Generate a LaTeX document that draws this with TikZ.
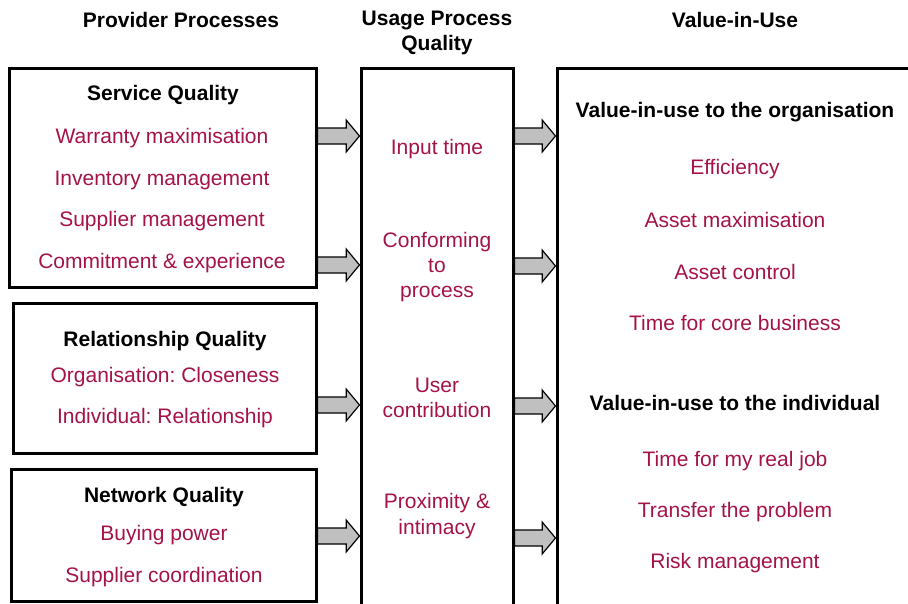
\documentclass[tikz,border=0pt]{standalone}
\usepackage{fontspec}
\setmainfont{Liberation Sans}
\usetikzlibrary{calc}
\definecolor{crim}{RGB}{164,18,72}
\definecolor{arrgray}{RGB}{192,192,192}
\tikzset{every picture/.style={line width=0.75pt}}
\tikzset{
  frame/.style={draw, line width=2.25pt, rectangle, inner sep=0pt},
  hd/.style={font=\fontsize{15.75}{19}\selectfont\bfseries, align=center, inner sep=0pt},
  item/.style={font=\fontsize{15.75}{19}\selectfont, text=crim, align=center, inner sep=0pt},
  blk/.style={draw, fill=arrgray, line width=0.9pt, line join=miter}
}
% block arrow from #1 to #2 (same height)
\newcommand{\blockarr}[2]{\draw[blk] let \p1=(#1), \p2=(#2) in
  (\x1,\y1-6pt) -- (\x2-10pt,\y1-6pt) -- (\x2-10pt,\y1-12pt) -- (\x2,\y1) -- (\x2-10pt,\y1+12pt) -- (\x2-10pt,\y1+6pt) -- (\x1,\y1+6pt) -- cycle;}
\frenchspacing

\begin{document}
\begin{tikzpicture}[x=0.75pt,y=0.75pt,yscale=-1,xscale=1]
	\useasboundingbox (0,0) rectangle (908,604);
	\clip (0,0) rectangle (908,604);

	%Column headings
	\node[hd] (hprov) at (181,20) {Provider Processes};
	\node[hd] (husage) at (437,33) {Usage Process\\Quality};
	\node[hd] (hvalue) at (735,20) {Value-in-Use};

	%Boxes
	\node[frame, minimum width=307*0.75pt, minimum height=219*0.75pt] (svc) at (162.5,177.5) {};
	\node[frame, minimum width=303*0.75pt, minimum height=150*0.75pt] (rel) at (164.5,378) {};
	\node[frame, minimum width=305*0.75pt, minimum height=132*0.75pt] (net) at (163.5,535) {};
	\node[frame, minimum width=152*0.75pt, minimum height=550*0.75pt] (usage) at (437,343) {};
	\node[frame, minimum width=370*0.75pt, minimum height=550*0.75pt] (value) at (742,343) {};

	%Service Quality
	\node[hd] (svcT) at (163,95) {Service Quality};
	\node[item] (svcA) at (162,138) {Warranty maximisation};
	\node[item] (svcB) at (162,180) {Inventory management};
	\node[item] (svcC) at (162,221) {Supplier management};
	\node[item] (svcD) at (162,263) {Commitment \& experience};

	%Relationship Quality
	\node[hd] (relT) at (165,341) {Relationship Quality};
	\node[item] (relA) at (165,377) {Organisation: Closeness};
	\node[item] (relB) at (165,418) {Individual: Relationship};

	%Network Quality
	\node[hd] (netT) at (164,497) {Network Quality};
	\node[item] (netA) at (164,535) {Buying power};
	\node[item] (netB) at (164,577) {Supplier coordination};

	%Usage process quality
	\node[item] (useA) at (437,149) {Input time};
	\node[item] (useB) at (437,267) {Conforming\\to\\process};
	\node[item] (useC) at (437,398) {User\\contribution};
	\node[item] (useD) at (437,516) {Proximity \&\\intimacy};

	%Value-in-use
	\node[hd] (orgT) at (735,112) {Value-in-use to the organisation};
	\node[item] (orgA) at (735,169) {Efficiency};
	\node[item] (orgB) at (735,220) {Asset maximisation};
	\node[item] (orgC) at (735,272) {Asset control};
	\node[item] (orgD) at (735,323) {Time for core business};
	\node[hd] (indT) at (735,403) {Value-in-use to the individual};
	\node[item] (indA) at (735,461) {Time for my real job};
	\node[item] (indB) at (735,512) {Transfer the problem};
	\node[item] (indC) at (735,563) {Risk management};

	%Block arrows
	\blockarr{svc.east |- 0,136}{usage.west |- 0,136}
	\blockarr{svc.east |- 0,265}{usage.west |- 0,265}
	\blockarr{rel.east |- 0,405}{usage.west |- 0,405}
	\blockarr{net.east |- 0,536}{usage.west |- 0,536}
	\blockarr{usage.east |- 0,136}{value.west |- 0,136}
	\blockarr{usage.east |- 0,266}{value.west |- 0,266}
	\blockarr{usage.east |- 0,406}{value.west |- 0,406}
	\blockarr{usage.east |- 0,538}{value.west |- 0,538}

\end{tikzpicture}
\end{document}
